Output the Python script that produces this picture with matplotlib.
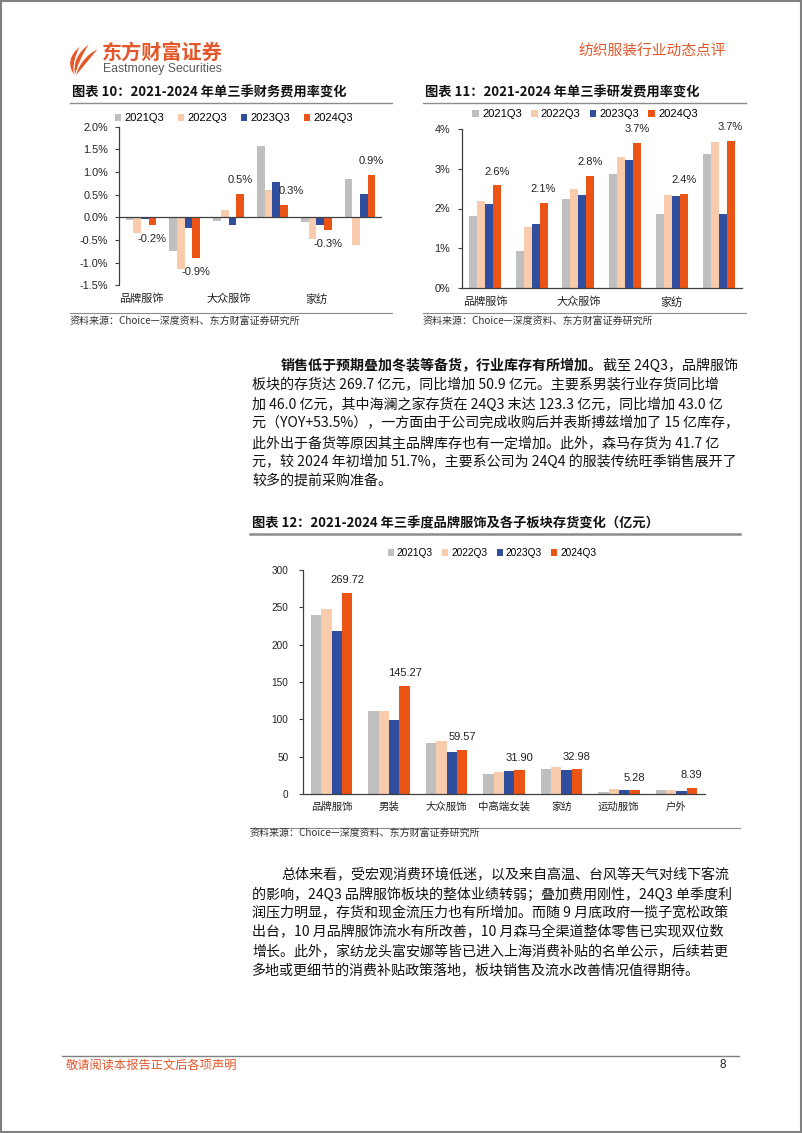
import matplotlib
matplotlib.use('Agg')
import matplotlib.pyplot as plt
from matplotlib.patches import Rectangle, PathPatch
from matplotlib.path import Path
import numpy as np

plt.rcParams['font.family'] = ['Noto Sans CJK SC', 'DejaVu Sans']
plt.rcParams['axes.unicode_minus'] = False

# ---------------- data ----------------
series_names = ['2021Q3', '2022Q3', '2023Q3', '2024Q3']
series_colors = ['#BFBFBF', '#F8CBAD', '#2F4E9E', '#EB5414']

# Chart 10: financial expense ratio (%)
fin_categories = ['品牌服饰', '', '大众服饰', '', '家纺', '']
fin_2021 = [-0.06, -0.74, -0.08, 1.57, -0.11, 0.85]
fin_2022 = [-0.35, -1.14, 0.16, 0.60, -0.49, -0.61]
fin_2023 = [-0.04, -0.23, -0.17, 0.78, -0.18, 0.51]
fin_2024 = [-0.18, -0.90, 0.51, 0.27, -0.28, 0.93]
fin_labels = ['-0.2%', '-0.9%', '0.5%', '0.3%', '-0.3%', '0.9%']
fin_yticks = [-1.5, -1.0, -0.5, 0.0, 0.5, 1.0, 1.5, 2.0]
fin_yticklabels = ['-1.5%', '-1.0%', '-0.5%', '0.0%', '0.5%', '1.0%', '1.5%', '2.0%']

# Chart 11: R&D expense ratio (%)
rd_categories = ['品牌服饰', '', '大众服饰', '', '家纺', '']
rd_2021 = [1.81, 0.93, 2.25, 2.87, 1.87, 3.38]
rd_2022 = [2.20, 1.54, 2.49, 3.30, 2.35, 3.67]
rd_2023 = [2.11, 1.60, 2.34, 3.23, 2.32, 1.85]
rd_2024 = [2.58, 2.14, 2.81, 3.66, 2.37, 3.69]
rd_labels = ['2.6%', '2.1%', '2.8%', '3.7%', '2.4%', '3.7%']
rd_yticks = [0, 1, 2, 3, 4]
rd_yticklabels = ['0%', '1%', '2%', '3%', '4%']

# Chart 12: inventory (亿元)
inv_categories = ['品牌服饰', '男装', '大众服饰', '中高端女装', '家纺', '运动服饰', '户外']
inv_2021 = [239.3, 110.5, 68.2, 26.3, 33.4, 3.1, 4.9]
inv_2022 = [248.2, 110.5, 70.4, 29.9, 36.1, 6.2, 4.9]
inv_2023 = [218.8, 98.9, 55.7, 30.3, 32.5, 4.9, 3.6]
inv_2024 = [269.72, 145.27, 59.57, 31.90, 32.98, 5.28, 8.39]
inv_labels = ['269.72', '145.27', '59.57', '31.90', '32.98', '5.28', '8.39']
inv_yticks = [0, 50, 100, 150, 200, 250, 300]
inv_yticklabels = ['0', '50', '100', '150', '200', '250', '300']

# texts
header_brand = '东方财富证券'
header_brand_en = 'Eastmoney Securities'
header_right = '纺织服装行业动态点评'
title10 = '图表 10：2021-2024 年单三季财务费用率变化'
title11 = '图表 11：2021-2024 年单三季研发费用率变化'
title12 = '图表 12：2021-2024 年三季度品牌服饰及各子板块存货变化（亿元）'
source_text = '资料来源：Choice—深度资料、东方财富证券研究所'
para1_bold = '销售低于预期叠加冬装等备货，行业库存有所增加。'
para1_lines = [
    '截至 24Q3，品牌服饰',
    '板块的存货达 269.7 亿元，同比增加 50.9 亿元。主要系男装行业存货同比增',
    '加 46.0 亿元，其中海澜之家存货在 24Q3 末达 123.3 亿元，同比增加 43.0 亿',
    '元（YOY+53.5%），一方面由于公司完成收购后并表斯搏兹增加了 15 亿库存，',
    '此外出于备货等原因其主品牌库存也有一定增加。此外，森马存货为 41.7 亿',
    '元，较 2024 年初增加 51.7%，主要系公司为 24Q4 的服装传统旺季销售展开了',
    '较多的提前采购准备。',
]
para2_lines = [
    '总体来看，受宏观消费环境低迷，以及来自高温、台风等天气对线下客流',
    '的影响，24Q3 品牌服饰板块的整体业绩转弱；叠加费用刚性，24Q3 单季度利',
    '润压力明显，存货和现金流压力也有所增加。而随 9 月底政府一揽子宽松政策',
    '出台，10 月品牌服饰流水有所改善，10 月森马全渠道整体零售已实现双位数',
    '增长。此外，家纺龙头富安娜等皆已进入上海消费补贴的名单公示，后续若更',
    '多地或更细节的消费补贴政策落地，板块销售及流水改善情况值得期待。',
]
footer_text = '敬请阅读本报告正文后各项声明'
page_number = '8'

# ---------------- figure ----------------
W, H = 802, 1133
fig = plt.figure(figsize=(W / 100, H / 100), dpi=100)
fig.patch.set_facecolor('white')

bg = fig.add_axes([0, 0, 1, 1])
bg.set_xlim(0, W)
bg.set_ylim(H, 0)
bg.axis('off')

ORANGE = '#E4572B'
NUM_FONT = ['Liberation Sans', 'DejaVu Sans']
CJK_FONT = ['Noto Sans CJK SC', 'DejaVu Sans']


def ax_px(l, t, r, b):
    return fig.add_axes([l / W, 1 - b / H, (r - l) / W, (b - t) / H])


# page border
bg.add_patch(Rectangle((1, 1), W - 2, H - 2, fill=False, edgecolor='#808080', lw=1.5))

# logo icon: three curved blades fanning from a common lower-left point
base = (75, 77)
blade_shapes = [
    ((81, 45), (62, 60), (71, 63)),
    ((90, 43), (70, 57), (78, 62)),
    ((99, 48), (80, 57), (86, 64)),
]
for tip, c1, c2 in blade_shapes:
    verts = [base, c1, tip, c2, base]
    codes = [Path.MOVETO, Path.CURVE3, Path.CURVE3, Path.CURVE3, Path.CURVE3]
    bg.add_patch(PathPatch(Path(verts, codes), facecolor=ORANGE, edgecolor='white', lw=0.6))
bg.text(102, 52, header_brand, fontsize=14.5, weight='bold', color=ORANGE,
        va='center', ha='left', family=CJK_FONT)
bg.text(103, 69, header_brand_en, fontsize=8.8, color='#595959',
        va='center', ha='left', family=NUM_FONT)
bg.text(726, 52, header_right, fontsize=10.6, color=ORANGE, weight='medium',
        va='center', ha='right', family=CJK_FONT)

# footer
bg.plot([62, 739], [1056, 1056], color='#808080', lw=1)
bg.text(66, 1065, footer_text, fontsize=8.8, color=ORANGE, weight='medium',
        va='center', ha='left', family=CJK_FONT)
bg.text(720, 1065, page_number, fontsize=8.5, color='#222222',
        va='center', ha='left', family=NUM_FONT)


# chart frames
def frame(x0, x1, ytitle, yline, ysep, ysrc, title, lw=1.0):
    bg.text(x0 + 2, ytitle, title, fontsize=9.5, weight='bold', color='#111111',
            va='center', ha='left', family=CJK_FONT)
    bg.plot([x0, x1], [yline, yline], color='#8c8c8c', lw=lw)
    bg.plot([x0, x1], [ysep, ysep], color='#8c8c8c', lw=0.8)
    bg.text(x0, ysrc, source_text, fontsize=7.2, color='#333333',
            va='center', ha='left', family=CJK_FONT)


frame(70, 392, 93, 103, 313, 321, title10)
frame(423, 746, 93, 103, 313, 321, title11)
frame(250, 740, 523, 534, 828, 833, title12, lw=1.8)


def grouped(ax, series, width):
    x = np.arange(len(series[0]))
    handles = []
    for k, (vals, c) in enumerate(zip(series, series_colors)):
        h = ax.bar(x + (k - 1.5) * width, vals, width, color=c, linewidth=0)
        handles.append(h)
    return x, handles


def style_axis(ax, yticks, yticklabels, cats, tick_fs, cat_fs, ypad, xpad):
    ax.set_yticks(yticks)
    ax.set_yticklabels(yticklabels, family=NUM_FONT, fontsize=tick_fs, color='#222222')
    ax.set_xticks(np.arange(len(cats)))
    ax.set_xticklabels(cats, family=CJK_FONT, fontsize=cat_fs, color='#222222')
    ax.tick_params(axis='y', length=3, width=0.8, color='#404040', pad=ypad, direction='out')
    ax.tick_params(axis='x', length=0, pad=xpad)
    for s in ['top', 'right']:
        ax.spines[s].set_visible(False)
    ax.spines['left'].set_color('#404040')
    ax.spines['left'].set_linewidth(0.9)
    ax.set_facecolor('none')


def legend(ax, handles, cx, cy, fs, spacing):
    ax.legend(handles, series_names, loc='center', bbox_to_anchor=(cx / W, 1 - cy / H),
              bbox_transform=fig.transFigure, ncol=4, frameon=False,
              prop={'family': NUM_FONT, 'size': fs}, handlelength=0.6,
              handleheight=0.6, handletextpad=0.3, columnspacing=spacing,
              borderaxespad=0, borderpad=0)


# ---- Chart 10 ----
ax10 = ax_px(119, 126.5, 382, 285.3)
x10, h10 = grouped(ax10, [fin_2021, fin_2022, fin_2023, fin_2024], 0.175)
ax10.set_xlim(-0.5, 5.5)
ax10.set_ylim(-1.5, 2.0)
style_axis(ax10, fin_yticks, fin_yticklabels, fin_categories, 7.8, 8.0, 5, 6)
ax10.spines['bottom'].set_visible(False)
ax10.axhline(0, color='#404040', lw=0.9)
for i, (xi, v, lab) in enumerate(zip(x10, fin_2024, fin_labels)):
    # a label next to a taller blue bar is nudged right to stay clear of it
    dx = 5 if (v >= 0 and fin_2023[i] > v) else 0
    ax10.annotate(lab, (xi + 1.5 * 0.175, v), xytext=(dx, 10 if v >= 0 else -10),
                  textcoords='offset points', ha='center', va='center',
                  family=NUM_FONT, fontsize=8, color='#222222')
legend(ax10, h10, 234, 118, 8, 1.2)

# ---- Chart 11 ----
ax11 = ax_px(461.5, 129, 742, 288)
x11, h11 = grouped(ax11, [rd_2021, rd_2022, rd_2023, rd_2024], 0.17)
ax11.set_xlim(-0.5, 5.5)
ax11.set_ylim(0, 4)
style_axis(ax11, rd_yticks, rd_yticklabels, rd_categories, 7.8, 8.0, 5, 6.3)
ax11.spines['bottom'].set_color('#404040')
ax11.spines['bottom'].set_linewidth(0.9)
for xi, v, lab in zip(x11, rd_2024, rd_labels):
    ax11.annotate(lab, (xi + 1.5 * 0.17, v), xytext=(0, 10),
                  textcoords='offset points', ha='center', va='center',
                  family=NUM_FONT, fontsize=8, color='#222222')
legend(ax11, h11, 585, 114, 8, 0.8)

# ---- Chart 12 ----
ax12 = ax_px(303, 570, 705, 794)
x12, h12 = grouped(ax12, [inv_2021, inv_2022, inv_2023, inv_2024], 0.18)
ax12.set_xlim(-0.5, 6.5)
ax12.set_ylim(0, 300)
style_axis(ax12, inv_yticks, inv_yticklabels, inv_categories, 7.2, 7.5, 7.5, 5.6)
ax12.spines['bottom'].set_color('#404040')
ax12.spines['bottom'].set_linewidth(0.9)
for xi, v, lab in zip(x12, inv_2024, inv_labels):
    ax12.annotate(lab, (xi + 1.5 * 0.18, v), xytext=(0, 9),
                  textcoords='offset points', ha='center', va='center',
                  family=NUM_FONT, fontsize=8, color='#222222')
legend(ax12, h12, 492, 553, 7.3, 0.9)

# ---------------- body text ----------------
BODY_FS = 10.1
LEFT, INDENT = 252, 281
LINE_H = 19.2
renderer = fig.canvas.get_renderer()

y = 366
tb = bg.text(INDENT, y, para1_bold, fontsize=BODY_FS, weight='bold', color='#111111',
             va='center', ha='left', family=CJK_FONT)
bb = tb.get_window_extent(renderer)
x_after = bg.transData.inverted().transform((bb.x1, bb.y0))[0]
bg.text(x_after, y, para1_lines[0], fontsize=BODY_FS, color='#111111',
        va='center', ha='left', family=CJK_FONT)
for i, line in enumerate(para1_lines[1:], start=1):
    bg.text(LEFT, 366 + i * LINE_H, line, fontsize=BODY_FS, color='#111111',
            va='center', ha='left', family=CJK_FONT)

for i, line in enumerate(para2_lines):
    bg.text(INDENT if i == 0 else LEFT, 875 + i * LINE_H, line, fontsize=BODY_FS,
            color='#111111', va='center', ha='left', family=CJK_FONT)

fig.savefig('out.png', dpi=100, facecolor='white')
